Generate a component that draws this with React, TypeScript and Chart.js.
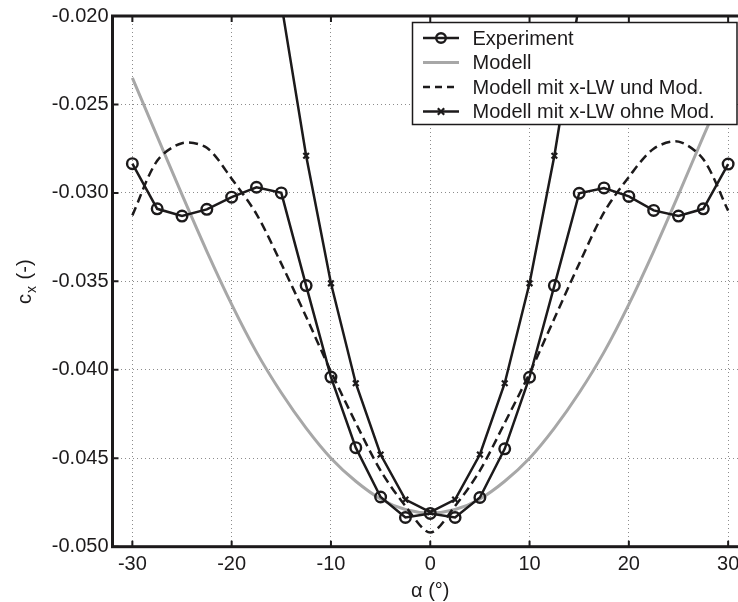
import React, { useEffect, useRef } from "react";
import { Chart, registerables } from "chart.js";

Chart.register(...registerables);

const angles = [-30, -27.5, -25, -22.5, -20, -17.5, -15, -12.5, -10, -7.5, -5, -2.5, 0, 2.5, 5, 7.5, 10, 12.5, 15, 17.5, 20, 22.5, 25, 27.5, 30];

const experiment = [-0.02835, -0.0309, -0.03131, -0.03093, -0.03024, -0.02968, -0.0300, -0.03524, -0.04041, -0.0444, -0.04719, -0.04835, -0.04812, -0.04835, -0.04722, -0.04447, -0.04042, -0.03524, -0.03002, -0.02972, -0.0302, -0.03099, -0.03131, -0.0309, -0.02837];

const modell = [-0.0235, -0.0268, -0.0301, -0.0333, -0.0363, -0.0390, -0.0413, -0.0433, -0.0450, -0.0463, -0.0473, -0.0479, -0.0481, -0.0479, -0.0473, -0.0463, -0.0450, -0.0433, -0.0413, -0.0390, -0.0363, -0.0333, -0.0301, -0.0268, -0.0236];

const modellMitMod = [-0.03127, -0.02818, -0.02719, -0.02745, -0.0292, -0.0312, -0.0340, -0.0370, -0.0401, -0.0430, -0.0457, -0.0477, -0.0492, -0.0477, -0.0457, -0.0430, -0.0402, -0.0371, -0.0340, -0.0311, -0.0291, -0.0275, -0.0271, -0.0281, -0.0310];

const modellOhneMod = [null, null, null, null, null, null, -0.0193, -0.0279, -0.03511, -0.04076, -0.04479, -0.04734, -0.04805, -0.04734, -0.04479, -0.04076, -0.03511, -0.0279, -0.0193, null, null, null, null, null, null];

const xTicks = [-30, -20, -10, 0, 10, 20, 30];
const yTicks = [-0.05, -0.045, -0.04, -0.035, -0.03, -0.025, -0.02];

const legendLabels = ["Experiment", "Modell", "Modell mit x-LW und Mod.", "Modell mit x-LW ohne Mod."];

const BLACK = "#1c1a1b";
const GRAY = "#a7a7a7";
const FONT = "'Liberation Sans', Arial, Helvetica, sans-serif";

export default function App() {
  const ref = useRef<HTMLCanvasElement | null>(null);

  useEffect(() => {
    document.documentElement.style.overflow = "hidden";
    document.body.style.overflow = "hidden";
    const canvas = ref.current;
    if (!canvas) return;

    const decor = {
      id: "decor",
      afterDatasetsDraw(chart: any) {
        const ctx = chart.ctx as CanvasRenderingContext2D;
        const { left, right, top, bottom } = chart.chartArea;
        const xs = chart.scales.x;
        const ys = chart.scales.y;
        ctx.save();
        // inward ticks
        ctx.strokeStyle = BLACK;
        ctx.lineWidth = 2;
        ctx.setLineDash([]);
        const tl = 6;
        for (const v of xTicks) {
          const px = xs.getPixelForValue(v);
          ctx.beginPath();
          ctx.moveTo(px, bottom);
          ctx.lineTo(px, bottom - tl);
          ctx.moveTo(px, top);
          ctx.lineTo(px, top + tl);
          ctx.stroke();
        }
        for (const v of yTicks) {
          const py = ys.getPixelForValue(v);
          ctx.beginPath();
          ctx.moveTo(left, py);
          ctx.lineTo(left + tl, py);
          ctx.moveTo(right, py);
          ctx.lineTo(right - tl, py);
          ctx.stroke();
        }
        // frame
        ctx.lineWidth = 3;
        ctx.strokeRect(left, top, right - left, bottom - top);

        // legend
        const lx = 412.5;
        const ly = top + 6.5;
        const lw = right - 11 - lx;
        const lh = 102;
        ctx.fillStyle = "#ffffff";
        ctx.fillRect(lx, ly, lw, lh);
        ctx.lineWidth = 1.5;
        ctx.strokeStyle = BLACK;
        ctx.strokeRect(lx, ly, lw, lh);
        const rows = [ly + 15.5, ly + 40, ly + 64.5, ly + 89];
        const x0 = 423, x1 = 459, xm = 441;
        ctx.font = `20px ${FONT}`;
        ctx.textBaseline = "middle";
        ctx.textAlign = "left";
        rows.forEach((ry, i) => {
          ctx.save();
          ctx.beginPath();
          ctx.moveTo(x0, ry);
          ctx.lineTo(x1, ry);
          if (i === 1) {
            ctx.strokeStyle = GRAY;
            ctx.lineWidth = 3;
          } else {
            ctx.strokeStyle = BLACK;
            ctx.lineWidth = 2.5;
          }
          if (i === 2) ctx.setLineDash([7, 5]);
          ctx.stroke();
          ctx.setLineDash([]);
          if (i === 0) {
            ctx.beginPath();
            ctx.arc(xm, ry, 4.8, 0, Math.PI * 2);
            ctx.lineWidth = 2.4;
            ctx.stroke();
          }
          if (i === 3) {
            ctx.beginPath();
            const s = 3.2;
            ctx.moveTo(xm - s, ry - s);
            ctx.lineTo(xm + s, ry + s);
            ctx.moveTo(xm + s, ry - s);
            ctx.lineTo(xm - s, ry + s);
            ctx.lineWidth = 2.2;
            ctx.stroke();
          }
          ctx.restore();
          ctx.fillStyle = BLACK;
          ctx.fillText(legendLabels[i], 472.5, ry + 1);
        });

        // axis titles
        ctx.fillStyle = BLACK;
        ctx.textBaseline = "alphabetic";
        ctx.textAlign = "center";
        ctx.font = `20px ${FONT}`;
        ctx.fillText("α (°)", (left + Math.min(right, 748)) / 2, 597);

        ctx.save();
        ctx.translate(31, 304);
        ctx.rotate(-Math.PI / 2);
        ctx.textAlign = "left";
        ctx.font = `20px ${FONT}`;
        ctx.fillText("c", 0, 0);
        const wc = ctx.measureText("c").width;
        ctx.font = `14px ${FONT}`;
        ctx.fillText("x", wc + 1, 5);
        const wx = ctx.measureText("x").width;
        ctx.font = `20px ${FONT}`;
        ctx.fillText(" (-)", wc + 1 + wx + 1, 0);
        ctx.restore();

        ctx.restore();
      },
    };

    const chart = new Chart(canvas, {
      type: "line",
      data: {
        labels: angles,
        datasets: [
          {
            label: legendLabels[0],
            data: angles.map((a, i) => ({ x: a, y: experiment[i] })),
            borderColor: BLACK,
            borderWidth: 2.5,
            pointStyle: "circle",
            pointRadius: 5.3,
            pointBorderWidth: 2.4,
            pointBorderColor: BLACK,
            pointBackgroundColor: "rgba(0,0,0,0)",
            tension: 0,
            order: 1,
          },
          {
            label: legendLabels[1],
            data: angles.map((a, i) => ({ x: a, y: modell[i] })),
            borderColor: GRAY,
            borderWidth: 3,
            pointRadius: 0,
            cubicInterpolationMode: "monotone",
            order: 4,
          },
          {
            label: legendLabels[2],
            data: angles.map((a, i) => ({ x: a, y: modellMitMod[i] })),
            borderColor: BLACK,
            borderWidth: 2.5,
            borderDash: [9, 5],
            pointRadius: 0,
            tension: 0.3,
            order: 3,
          },
          {
            label: legendLabels[3],
            data: angles.map((a, i) => ({ x: a, y: modellOhneMod[i] })),
            borderColor: BLACK,
            borderWidth: 2.5,
            pointStyle: "crossRot",
            pointRadius: 4,
            pointBorderWidth: 2.2,
            pointBorderColor: BLACK,
            tension: 0,
            spanGaps: false,
            order: 2,
          },
        ] as any,
      },
      options: {
        animation: false,
        responsive: false,
        devicePixelRatio: 1,
        layout: { padding: { left: 0, right: 12, top: 12.7, bottom: 0 } },
        plugins: {
          legend: { display: false },
          tooltip: { enabled: false },
          title: { display: false },
        },
        scales: {
          x: {
            type: "linear",
            min: -32,
            max: 32,
            afterBuildTicks: (axis: any) => {
              axis.ticks = xTicks.map((v) => ({ value: v }));
            },
            afterFit: (scale: any) => {
              scale.height = 55.3;
            },
            ticks: {
              color: BLACK,
              font: { family: FONT, size: 20 },
              padding: 6,
              maxRotation: 0,
              autoSkip: false,
              callback: (v: any) => String(v),
            },
            grid: {
              color: "#8c8c8c",
              lineWidth: 1,
              drawTicks: false,
            },
            border: { display: false, dash: [1, 3] },
          },
          y: {
            type: "linear",
            min: -0.05,
            max: -0.02,
            afterBuildTicks: (axis: any) => {
              axis.ticks = yTicks.map((v) => ({ value: v }));
            },
            afterFit: (scale: any) => {
              scale.width = 112.5;
            },
            ticks: {
              color: BLACK,
              font: { family: FONT, size: 20 },
              padding: 4,
              autoSkip: false,
              callback: (v: any) => Number(v).toFixed(3),
            },
            grid: {
              color: "#8c8c8c",
              lineWidth: 1,
              drawTicks: false,
            },
            border: { display: false, dash: [1, 3] },
          },
        },
      } as any,
      plugins: [decor],
    });

    return () => {
      chart.destroy();
    };
  }, []);

  return (
    <div style={{ position: "absolute", left: 0, top: 0, width: 760, height: 602, overflow: "hidden" }}>
      <canvas ref={ref} width={760} height={602} style={{ width: 760, height: 602, display: "block" }} />
    </div>
  );
}
